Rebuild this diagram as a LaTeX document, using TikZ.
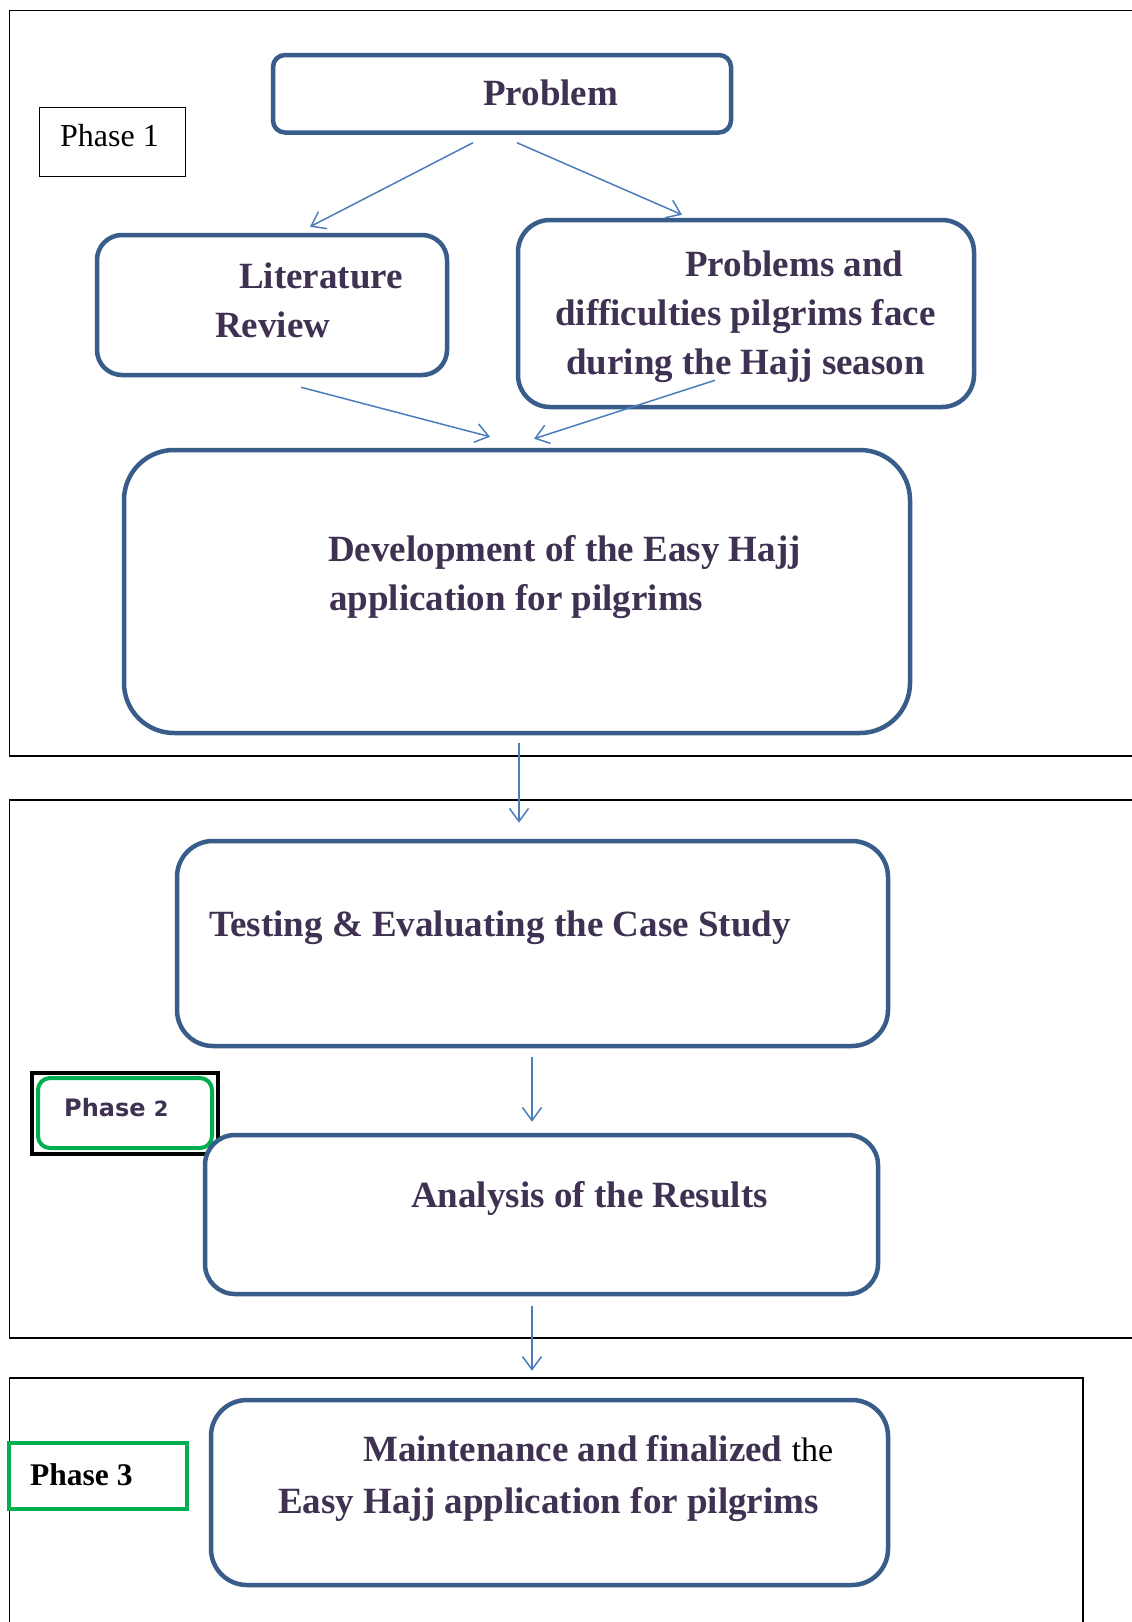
\documentclass[tikz,border=0pt]{standalone}
\usepackage{fontspec}
\setmainfont{Liberation Serif}
\newfontfamily\labelsans{DejaVu Sans}
\usetikzlibrary{calc,arrows.meta}

\definecolor{boxblue}{HTML}{385D8A}
\definecolor{flowblue}{HTML}{4A7EBB}
\definecolor{textpurple}{HTML}{3F3151}
\definecolor{phasegreen}{HTML}{00B050}

\tikzset{
  stage/.style={draw=boxblue, line width=4.5pt, rounded corners=#1, fill=white, inner sep=0pt},
  stage/.default=25pt,
  stagetext/.style={anchor=base west, inner sep=0pt, text=textpurple,
    font=\fontsize{37}{44}\selectfont\bfseries},
  flow/.style={draw=flowblue, line width=1.5pt,
    -{Straight Barb[length=13pt,width=19pt,line width=1.5pt]}},
  phaseframe/.style={draw=black, line width=1.5pt},
}

\begin{document}
\begin{tikzpicture}[x=1pt,y=-1pt]
\useasboundingbox (0,0) rectangle (1132,1622);
\fill[white] (0,0) rectangle (1132,1622);

% phase frames
\draw[phaseframe] (9.3,756) -- (9.3,10.3) -- (1145,10.3);
\draw[phaseframe] (9.3,756) -- (1145,756);
\draw[phaseframe] (9.3,1338) -- (9.3,800) -- (1145,800);
\draw[phaseframe] (9.3,1338) -- (1145,1338);
\draw[phaseframe] (9.3,1640) -- (9.3,1378) -- (1083,1378) -- (1083,1640);

% phase labels
\node[draw=black, line width=1.2pt, minimum width=146pt, minimum height=69pt, inner sep=0pt]
  (ph1box) at (112.5,142) {};
\node[anchor=base west, inner sep=0pt, font=\fontsize{32}{36}\selectfont]
  (ph1) at (60,146) {Phase 1};

\node[draw=black, line width=4pt, minimum width=186pt, minimum height=81pt, inner sep=0pt]
  (ph2outer) at (125,1113.5) {};
\node[draw=phasegreen, line width=4pt, rounded corners=12pt, minimum width=174pt,
  minimum height=70pt, inner sep=0pt] (ph2box) at (125,1113) {};
\node[anchor=base west, inner sep=0pt, text=textpurple,
  font=\labelsans\bfseries\fontsize{24}{28}\selectfont] (ph2) at (64,1116)
  {Phase {\fontsize{21}{24}\selectfont 2}};

\node[draw=phasegreen, line width=4pt, minimum width=178pt, minimum height=66pt, inner sep=0pt]
  (ph3box) at (98,1476) {};
\node[anchor=base west, inner sep=0pt, font=\fontsize{31.5}{36}\selectfont\bfseries]
  (ph3) at (30,1485) {Phase 3};

% stage boxes
\node[stage=12pt, minimum width=458pt, minimum height=77.5pt] (prob) at (502,93.75) {};
\node[stage=25pt, minimum width=350pt, minimum height=140pt] (lit) at (272,305) {};
\node[stage=32pt, minimum width=456pt, minimum height=187pt] (probs) at (746,313.5) {};
\node[stage=50pt, minimum width=786pt, minimum height=283pt] (dev) at (517,591.5) {};
\node[stage=36pt, minimum width=711pt, minimum height=205pt] (test) at (532.5,943.5) {};
\node[stage=30pt, minimum width=673pt, minimum height=159pt] (ana) at (541.5,1214.5) {};
\node[stage=36pt, minimum width=677pt, minimum height=185pt] (maint) at (549.5,1492.5) {};

% stage texts
\node[stagetext] (probT) at (483,105) {Problem};
\node[stagetext] (litA) at (239,288) {Literature};
\node[stagetext] (litB) at (215,337) {Review};
\node[stagetext] (probsA) at (685,276) {Problems and};
\node[stagetext] (probsB) at (555,325) {difficulties pilgrims face};
\node[stagetext] (probsC) at (566,374) {during the Hajj season};
\node[stagetext] (devA) at (328,561) {Development of the Easy Hajj};
\node[stagetext] (devB) at (329,610) {application for pilgrims};
\node[stagetext] (testT) at (209,936) {Testing \& Evaluating the Case Study};
\node[stagetext] (anaT) at (411,1207) {Analysis of the Results};
\node[stagetext] (maintA) at (363,1461)
  {Maintenance and finalized {\mdseries\color{black}\fontsize{34}{40}\selectfont the}};
\node[stagetext] (maintB) at (278,1513) {Easy Hajj application for pilgrims};

% connectors
\draw[flow] ($(prob.south)+(-29,8)$) -- ($(lit.north)+(38,-6)$);
\draw[flow] ($(prob.south)+(15,8)$) -- ($(probs.north)+(-64,-3)$);
\draw[flow] ($(lit.south)+(29,10)$) -- ($(dev.north)+(-27,-11)$);
\draw[flow] ($(probs.south)+(-31,-29)$) -- ($(dev.north)+(17,-9)$);
\draw[flow] ($(dev.south)+(2,8)$) -- ($(test.north)+(-13.5,-16)$);
\draw[flow] ($(test.south)+(-0.5,9)$) -- ($(ana.north)+(-9.5,-11)$);
\draw[flow] ($(ana.south)+(-9.5,10)$) -- ($(maint.north)+(-17.5,-27)$);
\end{tikzpicture}
\end{document}
